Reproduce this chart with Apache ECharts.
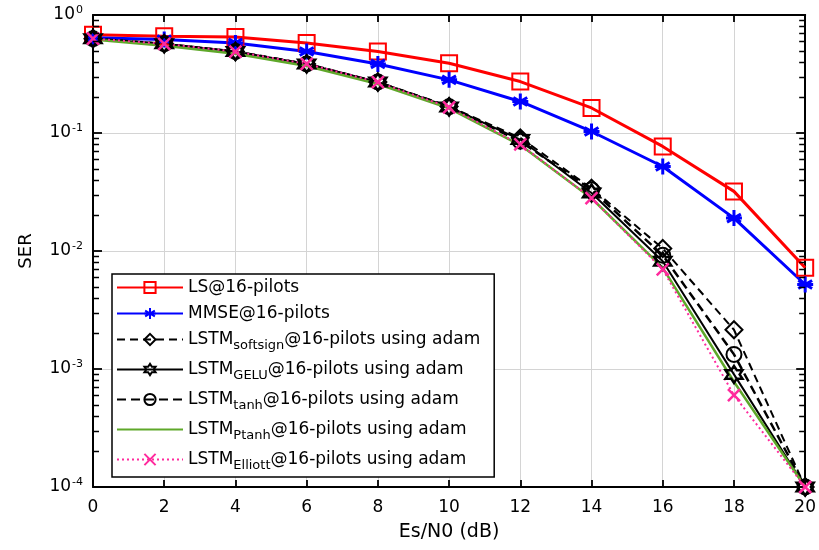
<!DOCTYPE html>
<html><head><meta charset="utf-8">
<script src="https://cdn.jsdelivr.net/npm/echarts@6/dist/echarts.min.js"></script>
<style>html,body{margin:0;padding:0;background:#fff}#c{width:819px;height:550px}</style>
</head><body><div id="c"></div>
<script>
const snr = [0, 2, 4, 6, 8, 10, 12, 14, 16, 18, 20];
const serLS       = [0.68, 0.66, 0.65, 0.58, 0.49, 0.39, 0.273, 0.163, 0.077, 0.032, 0.0072];
const serMMSE     = [0.64, 0.62, 0.58, 0.49, 0.385, 0.282, 0.185, 0.103, 0.052, 0.019, 0.0052];
const serSoftsign = [0.63, 0.57, 0.49, 0.385, 0.27, 0.168, 0.091, 0.034, 0.0105, 0.00215, 0.0001];
const serGELU     = [0.63, 0.57, 0.49, 0.385, 0.27, 0.166, 0.088, 0.031, 0.0082, 0.0009, 0.0001];
const serTanh     = [0.63, 0.57, 0.49, 0.385, 0.27, 0.167, 0.085, 0.033, 0.0092, 0.00133, 0.0001];
const serPtanh    = [0.62, 0.55, 0.47, 0.37, 0.26, 0.162, 0.079, 0.028, 0.0072, 0.00078, 0.0001];
const serElliott  = [0.63, 0.57, 0.49, 0.385, 0.27, 0.165, 0.080, 0.028, 0.0070, 0.0006, 0.0001];
const xTicks = [0, 2, 4, 6, 8, 10, 12, 14, 16, 18, 20];
const yDecades = [-4, -3, -2, -1];
const yMinorMultipliers = [2, 3, 4, 5, 6, 7, 8, 9];
const names = [
  ['LS@16-pilots', null, null],
  ['MMSE@16-pilots', null, null],
  ['LSTM', 'softsign', '@16-pilots using adam'],
  ['LSTM', 'GELU', '@16-pilots using adam'],
  ['LSTM', 'tanh', '@16-pilots using adam'],
  ['LSTM', 'Ptanh', '@16-pilots using adam'],
  ['LSTM', 'Elliott', '@16-pilots using adam']
];
const FONT = 'DejaVu Sans';

function hexagram() {
  const pts = [];
  for (let k = 0; k < 12; k++) {
    const r = k % 2 === 0 ? 1 : 0.5774;
    const a = (-90 + k * 30) * Math.PI / 180;
    pts.push((r * Math.cos(a)).toFixed(3) + ',' + (r * Math.sin(a)).toFixed(3));
  }
  return 'path://M' + pts.join('L') + 'Z';
}
const SYM_AST = 'path://M0,-1L0,1M-0.866,-0.5L0.866,0.5M-0.866,0.5L0.866,-0.5M-1,0L1,0';
const SYM_X = 'path://M-1,-1L1,1M-1,1L1,-1';

const fullName = n => n[1] ? n[0] + '_' + n[1] + n[2] : n[0];
const legendMap = {};
names.forEach(n => {
  legendMap[fullName(n)] = n[1] ? '{m|' + n[0] + '}{s|' + n[1] + '}{m|' + n[2] + '}' : '{m|' + n[0] + '}';
});

function mk(idx, data, color, symbol, size, lineType, lw, bw) {
  return {
    type: 'line', name: fullName(names[idx]),
    data: snr.map((x, i) => [x, data[i]]),
    symbol: symbol, symbolSize: size, showAllSymbol: true, clip: false,
    lineStyle: { color: color, width: lw, type: lineType },
    itemStyle: { color: 'none', borderColor: color, borderWidth: bw },
    emphasis: { disabled: true }, animation: false
  };
}

const series = [
  mk(0, serLS, '#ff0000', 'rect', 16, 'solid', 3, 2),
  mk(1, serMMSE, '#0000ff', SYM_AST, 16, 'solid', 3, 3),
  mk(2, serSoftsign, '#000000', 'diamond', 17, [8, 5], 2, 2),
  mk(3, serGELU, '#000000', hexagram(), 17, 'solid', 2, 2.5),
  mk(4, serTanh, '#000000', 'circle', 15, [9, 5], 2.5, 2),
  mk(5, serPtanh, '#5fa82a', 'circle', 0.1, 'solid', 2.5, 0),
  mk(6, serElliott, '#ff2a9d', SYM_X, 12, [2, 3], 2, 2.5)
];

const axisLine = { show: true, onZero: false, lineStyle: { color: '#000', width: 2 } };
const chart = echarts.init(document.getElementById('c'));
chart.setOption({
  backgroundColor: '#fff',
  animation: false,
  grid: { left: 93, right: 9, top: 15, bottom: 63, containLabel: false },
  legend: {
    orient: 'vertical', left: 112, top: 274,
    itemWidth: 66, itemHeight: 14, itemGap: 9,
    backgroundColor: '#fff', borderColor: '#000', borderWidth: 1.5,
    padding: [5, 14, 5, 4],
    selectedMode: false,
    formatter: n => legendMap[n],
    textStyle: {
      color: '#000', fontFamily: FONT, fontSize: 17,
      rich: {
        m: { fontFamily: FONT, fontSize: 17, color: '#000' },
        s: { fontFamily: FONT, fontSize: 13, color: '#000', padding: [12, 0, 0, 0] }
      }
    },
    data: names.map(fullName)
  },
  xAxis: [{
    type: 'value', min: 0, max: 20, interval: 2,
    name: 'Es/N0 (dB)', nameLocation: 'middle', nameGap: 36,
    nameTextStyle: { fontFamily: FONT, fontSize: 19, color: '#000' },
    axisLine: axisLine,
    axisTick: { inside: true, length: 7, lineStyle: { color: '#000', width: 1.8 } },
    axisLabel: { margin: 12, fontFamily: FONT, fontSize: 17, color: '#000',
      formatter: v => xTicks.indexOf(v) >= 0 ? String(v) : '' },
    splitLine: { show: true, lineStyle: { color: '#d4d4d4', width: 1 } }
  }, {
    type: 'value', min: 0, max: 20, interval: 2, position: 'top',
    axisLine: axisLine,
    axisTick: { inside: true, length: 7, lineStyle: { color: '#000', width: 1.8 } },
    axisLabel: { show: false }, splitLine: { show: false }
  }],
  yAxis: [{
    type: 'log', logBase: 10, min: 0.0001, max: 1,
    name: 'SER', nameLocation: 'middle', nameGap: 58,
    nameTextStyle: { fontFamily: FONT, fontSize: 18, color: '#000' },
    axisLine: axisLine,
    axisTick: { inside: true, length: 9, lineStyle: { color: '#000', width: 1.8 } },
    axisLabel: {
      margin: 10,
      formatter: v => '{b|10}{e|' + Math.round(Math.log10(v)) + '}',
      rich: {
        b: { fontFamily: FONT, fontSize: 17, color: '#000' },
        e: { fontFamily: FONT, fontSize: 11, color: '#000', padding: [0, 0, 10, 1] }
      }
    },
    splitLine: { show: true, lineStyle: { color: '#d4d4d4', width: 1 } }
  }, {
    type: 'log', logBase: 10, min: 0.0001, max: 1, position: 'right',
    axisLine: axisLine,
    axisTick: { inside: true, length: 9, lineStyle: { color: '#000', width: 1.8 } },
    axisLabel: { show: false }, splitLine: { show: false }
  }],
  series: series
});

// minor ticks of the log axes (2..9 in each decade), placed through the first series' coordinate system
const tickEls = [];
yDecades.forEach(d => yMinorMultipliers.forEach(m => {
  const v = m * Math.pow(10, d);
  const pl = chart.convertToPixel({ seriesIndex: 0 }, [0, v]);
  const pr = chart.convertToPixel({ seriesIndex: 0 }, [20, v]);
  if (pl && isFinite(pl[1])) {
    const y = Math.round(pl[1]) + 0.5;
    tickEls.push({ type: 'line', silent: true, z: 100,
      shape: { x1: pl[0], y1: y, x2: pl[0] + 6, y2: y }, style: { stroke: '#000', lineWidth: 1.5 } });
    tickEls.push({ type: 'line', silent: true, z: 100,
      shape: { x1: pr[0], y1: y, x2: pr[0] - 6, y2: y }, style: { stroke: '#000', lineWidth: 1.5 } });
  }
}));
chart.setOption({ graphic: { elements: tickEls } });
</script>
</body></html>
